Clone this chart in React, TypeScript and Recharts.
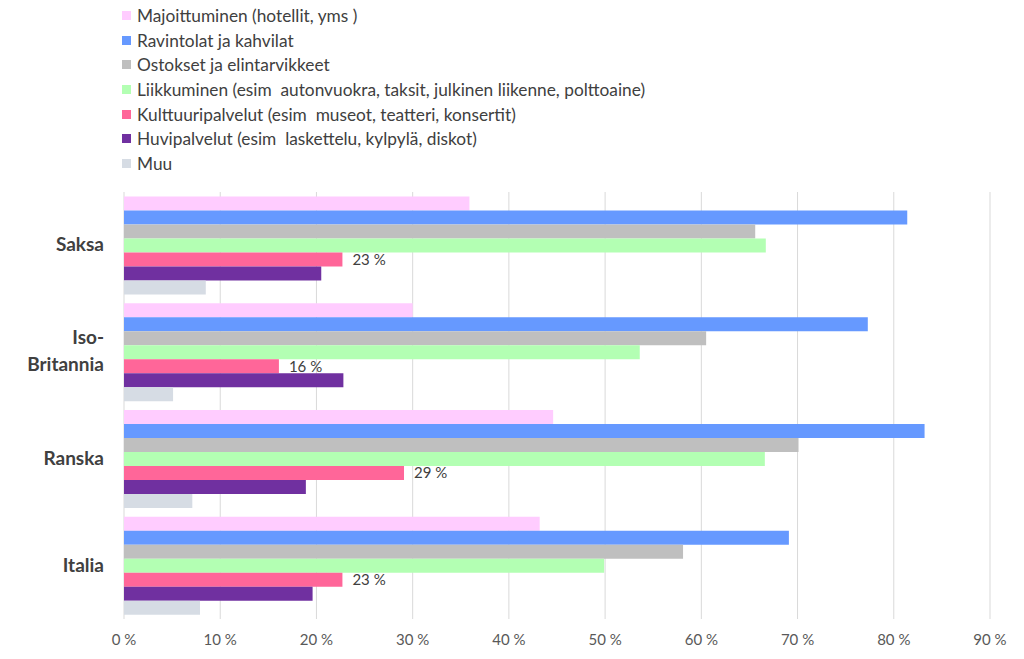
import { Bar, BarChart, CartesianGrid, LabelList, XAxis, YAxis } from 'recharts'

const countries = ['Saksa', 'Iso-Britannia', 'Ranska', 'Italia']

const seriesNames = [
  'Majoittuminen (hotellit, yms )',
  'Ravintolat ja kahvilat',
  'Ostokset ja elintarvikkeet',
  'Liikkuminen (esim  autonvuokra, taksit, julkinen liikenne, polttoaine)',
  'Kulttuuripalvelut (esim  museot, teatteri, konsertit)',
  'Huvipalvelut (esim  laskettelu, kylpylä, diskot)',
  'Muu',
]

const seriesColors = ['#FFCCFF', '#6699FF', '#BFBFBF', '#B3FFB3', '#FF6699', '#7030A0', '#D6DCE4']

// values in %, order: Saksa, Iso-Britannia, Ranska, Italia
const majoittuminen = [35.9, 30.0, 44.6, 43.2]
const ravintolat = [81.4, 77.3, 83.2, 69.1]
const ostokset = [65.6, 60.5, 70.1, 58.1]
const liikkuminen = [66.7, 53.6, 66.6, 49.9]
const kulttuuri = [22.7, 16.1, 29.1, 22.7]
const huvi = [20.5, 22.8, 18.9, 19.6]
const muu = [8.5, 5.1, 7.1, 7.9]

const xTicks = [0, 10, 20, 30, 40, 50, 60, 70, 80, 90]

const seriesValues = [majoittuminen, ravintolat, ostokset, liikkuminen, kulttuuri, huvi, muu]
const seriesKeys = ['s0', 's1', 's2', 's3', 's4', 's5', 's6']

const chartData = countries.map((country, i) => {
  const row: Record<string, string | number> = { country }
  seriesKeys.forEach((key, s) => {
    row[key] = seriesValues[s][i]
  })
  return row
})

const FONT = 'Lato, "Open Sans", sans-serif'

function CountryTick({ x, y, payload }: any) {
  const parts = payload.value === 'Iso-Britannia' ? ['Iso-', 'Britannia'] : [payload.value]
  const style = { fontFamily: FONT, fontSize: 19, fontWeight: 700, fill: '#404040' }
  if (parts.length === 1) {
    return (
      <text x={x} y={y} dy={6} textAnchor="end" style={style}>
        {parts[0]}
      </text>
    )
  }
  return (
    <g>
      <text x={x} y={y} dy={-8} textAnchor="end" style={style}>
        {parts[0]}
      </text>
      <text x={x} y={y} dy={19} textAnchor="end" style={style}>
        {parts[1]}
      </text>
    </g>
  )
}

function LegendBox() {
  return (
    <div style={{
      position: 'absolute',
      left: 122,
      top: 3,
      fontFamily: FONT,
      fontSize: 17.3,
      color: '#404040',
    }}>
      {seriesNames.map((name, i) => (
        <div key={name} style={{ height: 24.7, display: 'flex', alignItems: 'center', whiteSpace: 'pre' }}>
          <span style={{ width: 9, height: 9, background: seriesColors[i], marginRight: 6, display: 'inline-block' }} />
          {name}
        </div>
      ))}
    </div>
  )
}

export default function App() {
  return (
    <div style={{ position: 'absolute', left: 0, top: 0, width: 1024, height: 659, background: '#fff' }}>
      <BarChart
        width={1024}
        height={659}
        data={chartData}
        layout="vertical"
        margin={{ top: 192, right: 34, bottom: 0, left: 0 }}
        barCategoryGap="4.2%"
        barGap={0}
      >
        <CartesianGrid horizontal={false} stroke="#D9D9D9" />
        <XAxis
          type="number"
          domain={[0, 90]}
          ticks={xTicks}
          tickFormatter={v => `${v} %`}
          tick={{ fontFamily: FONT, fontSize: 15, fill: '#595959' }}
          tickLine={false}
          axisLine={false}
          tickMargin={9}
          height={40}
          interval={0}
        />
        <YAxis
          type="category"
          dataKey="country"
          width={124}
          tickSize={0}
          tickMargin={20}
          tickLine={false}
          axisLine={false}
          tick={<CountryTick />}
        />
        {seriesKeys.map((key, s) => (
          <Bar key={key} dataKey={key} name={seriesNames[s]} fill={seriesColors[s]} isAnimationActive={false}>
            {s === 4 && (
              <LabelList
                dataKey={key}
                position="right"
                offset={10}
                formatter={(v: any) => `${Math.round(Number(v))} %`}
                style={{ fontFamily: FONT, fontSize: 15, fill: '#404040' }}
              />
            )}
          </Bar>
        ))}
      </BarChart>
      <LegendBox />
    </div>
  )
}
